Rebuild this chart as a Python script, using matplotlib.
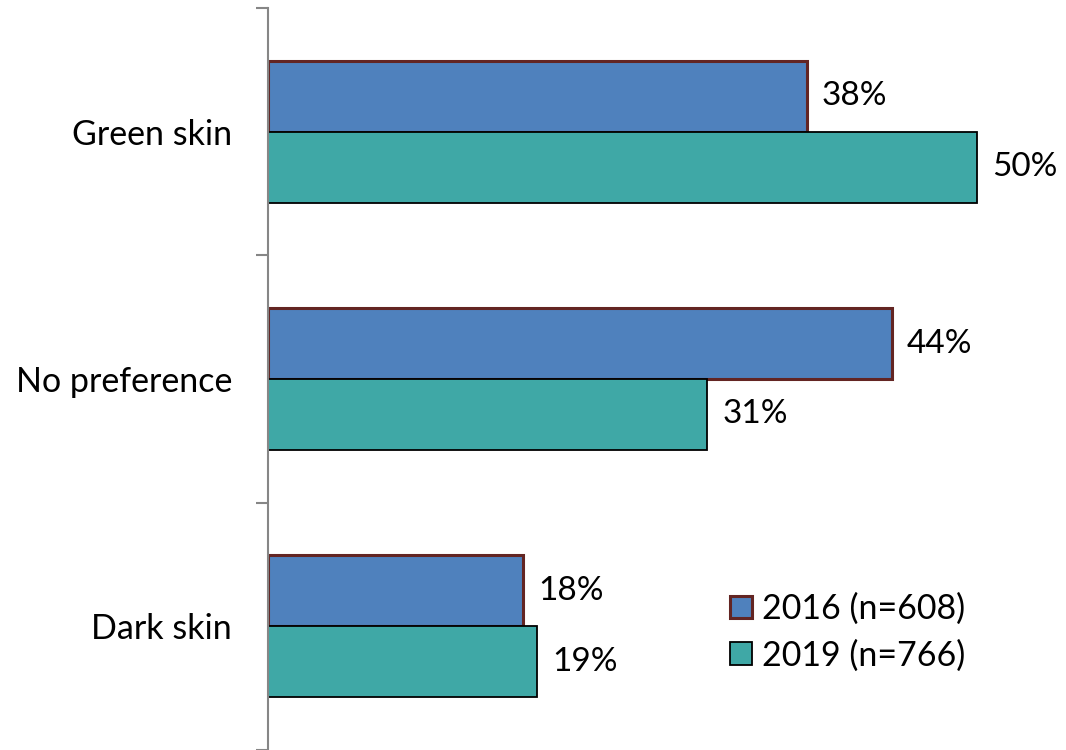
import matplotlib.pyplot as plt
import numpy as np

categories = ["Green skin", "No preference", "Dark skin"]
vals_2016 = [38, 44, 18]
vals_2019 = [50, 31, 19]
series_names = ["2016 (n=608)", "2019 (n=766)"]

plt.rcParams['font.family'] = ['Lato', 'DejaVu Sans']

W, H = 1066, 750
fig = plt.figure(figsize=(W / 100, H / 100), dpi=100)
ax = fig.add_axes([268 / W, 0, 798 / W, 742 / H])

# top category first
y = np.arange(len(categories))[::-1]
h = 0.287

b1 = ax.barh(y + h / 2, vals_2016, height=h, color='#4F81BD',
             edgecolor='#632523', linewidth=2.2, label=series_names[0])
b2 = ax.barh(y - h / 2, vals_2019, height=h, color='#3FA8A6',
             edgecolor='black', linewidth=1.3, label=series_names[1])

for bars, vals in ((b1, vals_2016), (b2, vals_2019)):
    for bar, v in zip(bars, vals):
        ax.annotate(f"{v}%", (v, bar.get_y() + bar.get_height() / 2),
                    xytext=(11, 0), textcoords='offset points',
                    ha='left', va='center', fontsize=24)

ax.set_xlim(0, 56.3)
ax.set_ylim(-0.5, 2.5)
ax.set_yticks([-0.5, 0.5, 1.5, 2.5], minor=False)
ax.set_yticklabels([])
ax.set_yticks(y, minor=True)
ax.set_yticklabels(categories, minor=True, fontsize=24.5)
ax.tick_params(axis='y', which='major', length=9, width=1.5, color='#868686', direction='out')
ax.tick_params(axis='y', which='minor', length=0, pad=26)
ax.set_xticks([])

for s in ('top', 'right', 'bottom'):
    ax.spines[s].set_visible(False)
ax.spines['left'].set_color('#868686')
ax.spines['left'].set_linewidth(1.5)

fig.legend(handles=[b1, b2], loc='upper left', bbox_to_anchor=(716 / W, 1 - 579 / H),
           frameon=False, fontsize=24.5, handlelength=0.65, handleheight=0.65,
           handletextpad=0.3, labelspacing=0.42, borderaxespad=0)

fig.savefig('out.png', dpi=100)
